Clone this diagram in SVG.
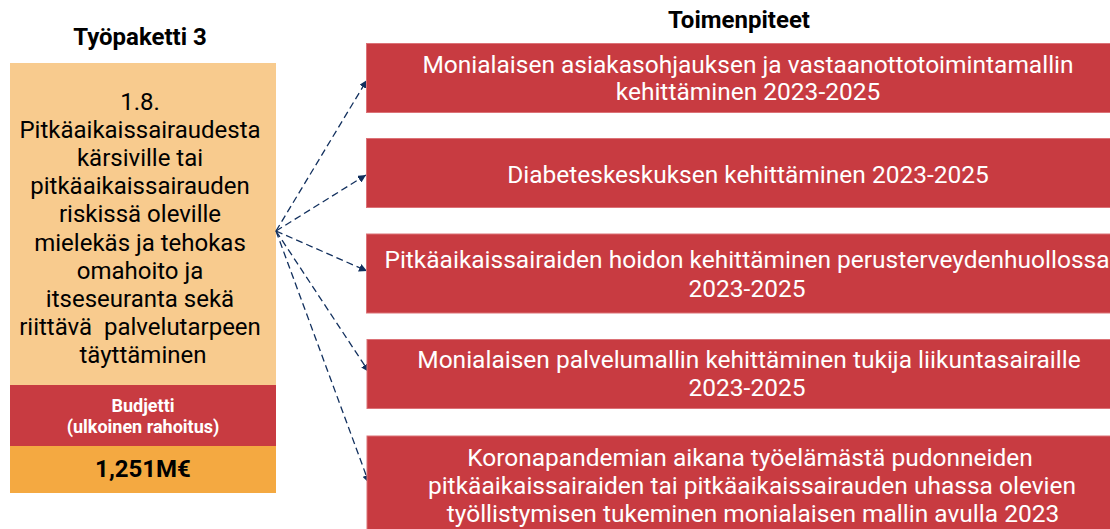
<svg xmlns="http://www.w3.org/2000/svg" width="1110" height="529" viewBox="0 0 1110 529">
<style>
.t{font-family:Roboto,"Liberation Sans",sans-serif;}
.hd{font-size:24px;font-weight:bold;fill:#000;text-anchor:middle;}
.lt{font-size:24px;fill:#000;text-anchor:middle;}
.bt{font-size:18px;font-weight:bold;fill:#fff;text-anchor:middle;}
.rt{font-size:24.5px;fill:#fff;text-anchor:middle;}
.rb{fill:#C83B41;stroke:#DC7277;stroke-width:1;}
.cn{fill:none;stroke:#12305E;stroke-width:1.3;stroke-dasharray:7 4;marker-end:url(#ah);}
</style>
<defs>
<marker id="ah" viewBox="0 0 10 10" refX="10" refY="5" markerWidth="8" markerHeight="8" markerUnits="userSpaceOnUse" orient="auto">
<path d="M0,0 L10,5 L0,10 z" fill="#12305E"/>
</marker>
</defs>
<rect width="1110" height="529" fill="#fff"/>
<text class="t hd" x="140" y="45">Työpaketti 3</text>
<text class="t hd" x="739" y="28">Toimenpiteet</text>
<g id="workpackage">
<rect x="10" y="63" width="266" height="323" fill="#F8CB8E"/>
<text class="t lt">
<tspan x="143" y="110">1.8.</tspan>
<tspan x="143" y="138">Pitkäaikaissairaudesta</tspan>
<tspan x="143" y="166">kärsiville tai</tspan>
<tspan x="143" y="194">pitkäaikaissairauden</tspan>
<tspan x="143" y="222">riskissä oleville</tspan>
<tspan x="143" y="251">mielekäs ja tehokas</tspan>
<tspan x="143" y="279">omahoito ja</tspan>
<tspan x="143" y="307">itseseuranta sekä</tspan>
<tspan x="143" y="335" xml:space="preserve">riittävä  palvelutarpeen</tspan>
<tspan x="143" y="363">täyttäminen</tspan>
</text>
</g>
<g id="budget">
<rect x="10" y="385" width="266" height="61" fill="#C83B41"/>
<text class="t bt"><tspan x="143" y="412">Budjetti</tspan><tspan x="143" y="433">(ulkoinen rahoitus)</tspan></text>
<rect x="10" y="446" width="266" height="47" fill="#F4A941"/>
<text class="t" x="143" y="477" font-size="24" font-weight="bold" text-anchor="middle" fill="#000">1,251M€</text>
</g>
<g id="connectors">
<line class="cn" x1="276" y1="231" x2="367" y2="80"/>
<line class="cn" x1="276" y1="231" x2="366" y2="175"/>
<line class="cn" x1="276" y1="231" x2="367" y2="271"/>
<line class="cn" x1="276" y1="231" x2="369" y2="372"/>
<line class="cn" x1="276" y1="231" x2="369" y2="483"/>
</g>
<g id="action1">
<rect class="rb" x="366.5" y="43.5" width="764" height="69"/>
<text class="t rt"><tspan x="748" y="73">Monialaisen asiakasohjauksen ja vastaanottotoimintamallin</tspan><tspan x="748" y="100">kehittäminen 2023-2025</tspan></text>
</g>
<g id="action2">
<rect class="rb" x="366.5" y="138.5" width="764" height="69"/>
<text class="t rt" x="748" y="183">Diabeteskeskuksen kehittäminen 2023-2025</text>
</g>
<g id="action3">
<rect class="rb" x="366.5" y="234" width="764" height="79"/>
<text class="t rt"><tspan x="747" y="268">Pitkäaikaissairaiden hoidon kehittäminen perusterveydenhuollossa</tspan><tspan x="747" y="297">2023-2025</tspan></text>
</g>
<g id="action4">
<rect class="rb" x="367" y="339.5" width="764" height="69"/>
<text class="t rt"><tspan x="749" y="368">Monialaisen palvelumallin kehittäminen tukija liikuntasairaille</tspan><tspan x="747" y="396">2023-2025</tspan></text>
</g>
<g id="action5">
<rect class="rb" x="367" y="436" width="764" height="100"/>
<text class="t rt"><tspan x="750" y="466">Koronapandemian aikana työelämästä pudonneiden</tspan><tspan x="752" y="494">pitkäaikaissairaiden tai pitkäaikaissairauden uhassa olevien</tspan><tspan x="753" y="522">työllistymisen tukeminen monialaisen mallin avulla 2023</tspan></text>
</g>
</svg>
